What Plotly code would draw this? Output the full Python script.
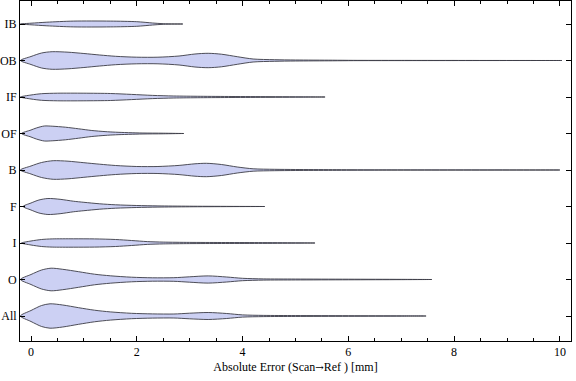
import plotly.graph_objects as go

# Categories, bottom to top
categories = ["All", "O", "I", "F", "B", "OF", "IF", "OB", "IB"]

# Violin profiles: x positions (mm) and relative half-widths (density)
profiles = {
    "All": ([-0.2, 0.0, 0.2, 0.36, 0.6, 0.9, 1.2, 1.5, 1.9, 2.3, 2.7, 3.0, 3.35, 3.7, 4.0, 4.4, 5.0, 6.0, 7.0, 7.47],
            [0, 5.5, 10.5, 12.2, 11.0, 8.3, 5.8, 4.1, 2.7, 2.1, 2.0, 2.8, 3.5, 2.5, 1.1, 0.6, 0.45, 0.3, 0.15, 0]),
    "O": ([-0.2, 0.0, 0.2, 0.38, 0.6, 0.9, 1.2, 1.5, 1.9, 2.3, 2.7, 3.0, 3.35, 3.7, 4.0, 4.4, 5.0, 6.0, 7.0, 7.58],
          [0, 5.0, 9.5, 11.3, 10.2, 7.8, 5.3, 3.7, 2.3, 1.7, 1.8, 2.7, 3.6, 2.5, 1.2, 0.6, 0.45, 0.3, 0.15, 0]),
    "I": ([-0.18, 0.0, 0.2, 0.4, 0.8, 1.2, 1.6, 1.9, 2.2, 2.5, 3.0, 3.6, 4.3, 5.0, 5.37],
          [0, 2.0, 3.5, 4.1, 4.2, 4.1, 3.5, 2.5, 1.4, 0.9, 0.6, 0.5, 0.4, 0.2, 0]),
    "F": ([-0.15, 0.0, 0.15, 0.32, 0.55, 0.8, 1.0, 1.3, 1.6, 2.0, 2.4, 3.0, 4.42],
          [0, 3.5, 6.5, 8.0, 7.2, 5.3, 4.2, 2.7, 1.7, 1.0, 0.6, 0.3, 0]),
    "B": ([-0.2, 0.0, 0.2, 0.42, 0.7, 1.0, 1.3, 1.6, 2.0, 2.4, 2.8, 3.1, 3.32, 3.6, 3.9, 4.2, 4.6, 5.0, 5.7, 6.5, 10.0],
          [0, 4.0, 7.5, 9.3, 8.8, 7.3, 5.8, 4.5, 3.5, 3.5, 4.6, 6.2, 6.7, 5.5, 3.0, 1.2, 0.7, 0.5, 0.35, 0.15, 0]),
    "OF": ([-0.18, 0.0, 0.1, 0.25, 0.4, 0.65, 0.9, 1.15, 1.4, 1.6, 2.1, 2.5, 2.89],
           [0, 3.5, 5.5, 7.5, 7.3, 6.3, 4.7, 3.0, 1.9, 1.3, 0.5, 0.3, 0]),
    "IF": ([-0.2, 0.0, 0.2, 0.5, 1.0, 1.5, 1.9, 2.3, 2.7, 3.2, 3.8, 4.5, 5.0, 5.56],
           [0, 2.0, 3.3, 3.8, 3.8, 3.5, 2.6, 1.6, 1.0, 0.7, 0.5, 0.35, 0.2, 0]),
    "OB": ([-0.2, 0.0, 0.2, 0.4, 0.7, 1.0, 1.3, 1.6, 2.0, 2.4, 2.8, 3.1, 3.35, 3.6, 3.9, 4.2, 4.6, 5.0, 5.7, 6.1, 7.0, 10.04],
           [0, 4.0, 7.5, 8.8, 8.3, 7.0, 5.5, 4.2, 3.3, 3.3, 4.5, 6.5, 7.2, 6.3, 3.8, 1.5, 0.8, 0.5, 0.3, 0.15, 0.1, 0]),
    "IB": ([-0.2, 0.0, 0.3, 0.8, 1.5, 2.0, 2.3, 2.5, 2.87],
           [0, 0.8, 1.8, 2.9, 2.9, 2.3, 1.0, 0.3, 0]),
}

x_ticks = [0, 2, 4, 6, 8, 10]
x_title = "Absolute Error (Scan<span style='font-family:DejaVu Serif;font-size:10px'>\u2192</span>Ref ) [mm]"

WIDTH_SCALE = 1 / 36.5
FILL = "rgb(204,208,243)"
EDGE = "rgba(60,60,70,0.9)"

fig = go.Figure()
for i, cat in enumerate(categories):
    pos = i + 1
    xs, dens = profiles[cat]
    px = list(xs) + list(xs[::-1])
    py = [pos + d * WIDTH_SCALE for d in dens] + [pos - d * WIDTH_SCALE for d in dens[::-1]]
    fig.add_trace(go.Scatter(
        x=px, y=py, mode="lines", fill="toself", fillcolor=FILL,
        line=dict(color=EDGE, width=1, shape="spline", smoothing=0.8),
        hoverinfo="skip", showlegend=False,
    ))

font = dict(family="Liberation Serif, Times New Roman, serif", size=12, color="black")
fig.update_layout(
    width=576, height=381,
    margin=dict(l=20, r=5, t=1, b=40),
    paper_bgcolor="white", plot_bgcolor="white",
    font=font,
    xaxis=dict(
        range=[-0.208, 10.21], tickvals=x_ticks, ticks="inside", ticklen=5,
        tickcolor="black", showline=True, linecolor="black", linewidth=1, mirror="ticks",
        showgrid=False, zeroline=False, automargin=False,
        minor=dict(dtick=0.5, tick0=0, ticks="inside", ticklen=3, tickcolor="black", showgrid=False),
        title=dict(text=x_title, standoff=4, font=font),
    ),
    yaxis=dict(
        range=[0.315, 9.63], tickvals=list(range(1, len(categories) + 1)), ticktext=categories,
        ticks="inside", ticklen=5, tickcolor="black", showline=True, linecolor="black",
        linewidth=1, mirror="ticks", showgrid=False, zeroline=False, automargin=False,
    ),
)

fig.write_html(
    "out.html",
    config={"displayModeBar": False},
    post_script="document.body.style.margin='0';document.body.style.overflow='hidden';",
)
